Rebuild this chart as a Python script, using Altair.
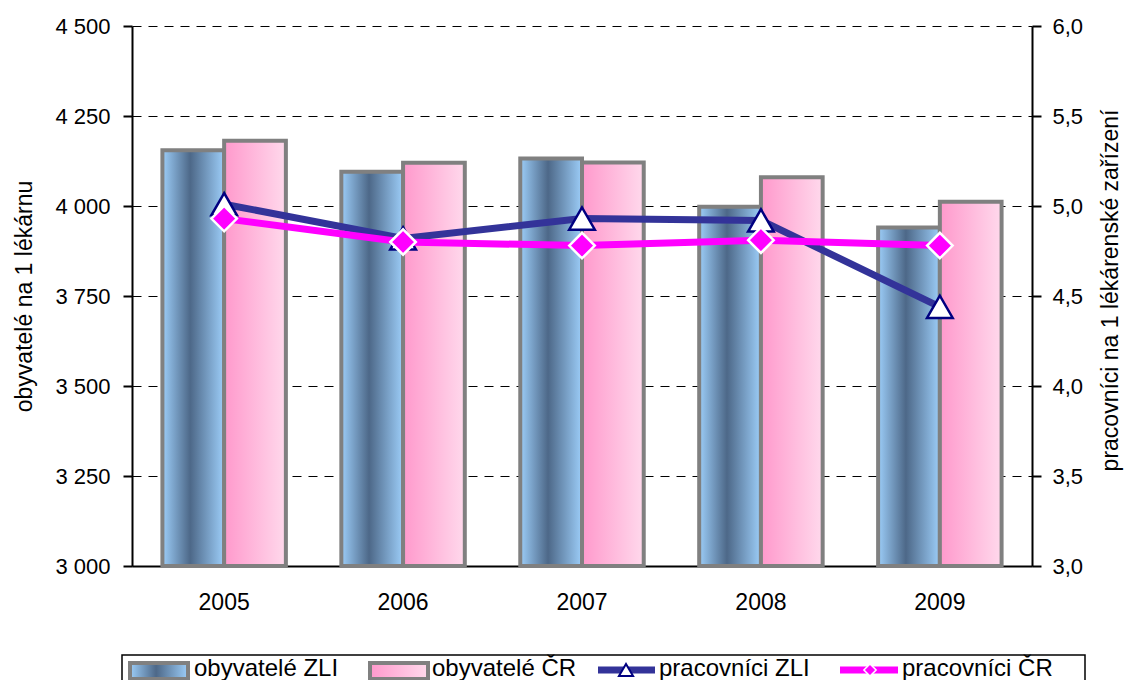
import altair as alt
import pandas as pd

# ---- data ----
years = ["2005", "2006", "2007", "2008", "2009"]
obyv_zli = [4155, 4095, 4132, 3998, 3940]
obyv_cr = [4181, 4120, 4121, 4080, 4012]
prac_zli = [5.01, 4.82, 4.93, 4.92, 4.44]
prac_cr = [4.93, 4.80, 4.78, 4.81, 4.78]
series_names = ["ZLI", "ČR"]
legend_labels = ["obyvatelé ZLI", "obyvatelé ČR", "pracovníci ZLI", "pracovníci ČR"]
left_ticks = [3000, 3250, 3500, 3750, 4000, 4250, 4500]
right_ticks = [3.0, 3.5, 4.0, 4.5, 5.0, 5.5, 6.0]

bars_df = pd.DataFrame({
    "year": years * 2,
    "series": ["ZLI"] * 5 + ["ČR"] * 5,
    "value": obyv_zli + obyv_cr,
})
lines_df = pd.DataFrame({
    "year": years * 2,
    "series": ["ZLI"] * 5 + ["ČR"] * 5,
    "value": prac_zli + prac_cr,
})

FONT = "Liberation Sans"

grad_zli = alt.LinearGradient(
    gradient="linear",
    stops=[
        alt.GradientStop(offset=0, color="#9CCDF8"),
        alt.GradientStop(offset=0.45, color="#4D6888"),
        alt.GradientStop(offset=1, color="#9CCDF8"),
    ],
    x1=0, x2=1, y1=0, y2=0,
)
grad_cr = alt.LinearGradient(
    gradient="linear",
    stops=[
        alt.GradientStop(offset=0, color="#FF99CC"),
        alt.GradientStop(offset=1, color="#FFD9EC"),
    ],
    x1=0, x2=1, y1=0, y2=0,
)

x_enc = alt.X(
    "year:N",
    scale=alt.Scale(paddingInner=0.31, paddingOuter=0.17),
    axis=alt.Axis(
        title=None, labelAngle=0, ticks=False, labelPadding=25,
        labelFontSize=23, labelFont=FONT, labelColor="black",
        domainColor="black", domainWidth=2,
    ),
)
xoff = alt.XOffset("series:N", scale=alt.Scale(domain=series_names))

left_axis = alt.Axis(
    title="obyvatelé na 1 lékárnu",
    values=left_ticks,
    labelExpr="replace(format(datum.value, ','), ',', ' ')",
    grid=True, gridDash=[9, 7], gridColor="black", gridWidth=1,
    domainColor="black", domainWidth=2,
    tickColor="black", tickWidth=2, tickSize=9,
    labelPadding=13, labelFontSize=22, labelFont=FONT, labelColor="black",
    titleFontSize=23, titleFont=FONT, titleColor="black", titleFontWeight="normal",
    titleAngle=270, titleX=-108, titleY=270, titleAlign="center", titleBaseline="middle",
)
y_left = alt.Y("value:Q", scale=alt.Scale(domain=[3000, 4500], nice=False, zero=False), axis=left_axis)

right_axis = alt.Axis(
    orient="right",
    title="pracovníci na 1 lékárenské zařízení",
    values=right_ticks,
    labelExpr="replace(format(datum.value, '.1f'), '.', ',')",
    grid=False,
    domainColor="black", domainWidth=2,
    tickColor="black", tickWidth=2, tickSize=9,
    labelPadding=11, labelFontSize=22, labelFont=FONT, labelColor="black",
    titleFontSize=23, titleFont=FONT, titleColor="black", titleFontWeight="normal",
    titleAngle=270, titleX=78, titleY=264, titleAlign="center", titleBaseline="middle",
)
y_right = alt.Y("value:Q", scale=alt.Scale(domain=[3, 6], nice=False, zero=False), axis=right_axis)

bar_zli = alt.Chart(bars_df).transform_filter(alt.datum.series == "ZLI").mark_bar(
    fill=grad_zli, stroke="#808080", strokeWidth=4
).encode(x=x_enc, xOffset=xoff, y=y_left, y2=alt.datum(3000))

bar_cr = alt.Chart(bars_df).transform_filter(alt.datum.series == "ČR").mark_bar(
    fill=grad_cr, stroke="#808080", strokeWidth=4
).encode(x=x_enc, xOffset=xoff, y=y_left, y2=alt.datum(3000))

bars = alt.layer(bar_zli, bar_cr)

line_zli = alt.Chart(lines_df).transform_filter(alt.datum.series == "ZLI").mark_line(
    color="#333399", strokeWidth=7
).encode(x=x_enc, y=y_right)
pts_zli = alt.Chart(lines_df).transform_filter(alt.datum.series == "ZLI").mark_point(
    shape="triangle-up", filled=True, fill="white", stroke="#000080", strokeWidth=2.5,
    size=660, opacity=1
).encode(x=x_enc, y=y_right)
line_cr = alt.Chart(lines_df).transform_filter(alt.datum.series == "ČR").mark_line(
    color="#FF00FF", strokeWidth=7
).encode(x=x_enc, y=y_right)
pts_cr = alt.Chart(lines_df).transform_filter(alt.datum.series == "ČR").mark_point(
    shape="diamond", filled=True, fill="#FF00FF", stroke="white", strokeWidth=2.5,
    size=650, opacity=1
).encode(x=x_enc, y=y_right)

lines = alt.layer(line_zli, pts_zli, line_cr, pts_cr)

# ---- manual legend (below plot) ----
one = pd.DataFrame({"k": [0]})
LY = 644

legend_box = alt.Chart(one).mark_rect(fill="white", stroke="black", strokeWidth=1.5).encode(
    x=alt.value(-10), x2=alt.value(953), y=alt.value(629), y2=alt.value(700)
)
sw_zli = alt.Chart(one).mark_rect(fill=grad_zli, stroke="#808080", strokeWidth=4).encode(
    x=alt.value(-2), x2=alt.value(56), y=alt.value(637), y2=alt.value(653)
)
sw_cr = alt.Chart(one).mark_rect(fill=grad_cr, stroke="#808080", strokeWidth=4).encode(
    x=alt.value(238), x2=alt.value(296), y=alt.value(637), y2=alt.value(653)
)
lg_line_zli = alt.Chart(one).mark_rule(color="#333399", strokeWidth=7).encode(
    x=alt.value(466), x2=alt.value(523), y=alt.value(LY)
)
lg_pt_zli = alt.Chart(one).mark_point(
    shape="triangle-up", filled=True, fill="white", stroke="#000080", strokeWidth=2, size=200, opacity=1
).encode(x=alt.value(494), y=alt.value(LY))
lg_line_cr = alt.Chart(one).mark_rule(color="#FF00FF", strokeWidth=7).encode(
    x=alt.value(708), x2=alt.value(766), y=alt.value(LY)
)
lg_pt_cr = alt.Chart(one).mark_point(
    shape="diamond", filled=True, fill="#FF00FF", stroke="white", strokeWidth=1.5, size=150, opacity=1
).encode(x=alt.value(738), y=alt.value(LY))

text_x = [62, 300, 527, 770]
legend_texts = []
for lab, tx in zip(legend_labels, text_x):
    legend_texts.append(
        alt.Chart(pd.DataFrame({"label": [lab]})).mark_text(
            align="left", baseline="alphabetic", fontSize=24, font=FONT, color="black"
        ).encode(x=alt.value(tx), y=alt.value(650), text="label:N")
    )

chart = alt.layer(
    bars, lines, legend_box, sw_zli, sw_cr, lg_line_zli, lg_pt_zli, lg_line_cr, lg_pt_cr, *legend_texts
).resolve_scale(y="independent").properties(
    width=900, height=540,
    autosize=alt.AutoSizeParams(type="none"),
    padding={"left": 124, "top": 18, "right": 93, "bottom": 114},
    background="white",
).configure_view(stroke=None)

chart.save("out.html", embed_options={"renderer": "svg", "actions": False})
